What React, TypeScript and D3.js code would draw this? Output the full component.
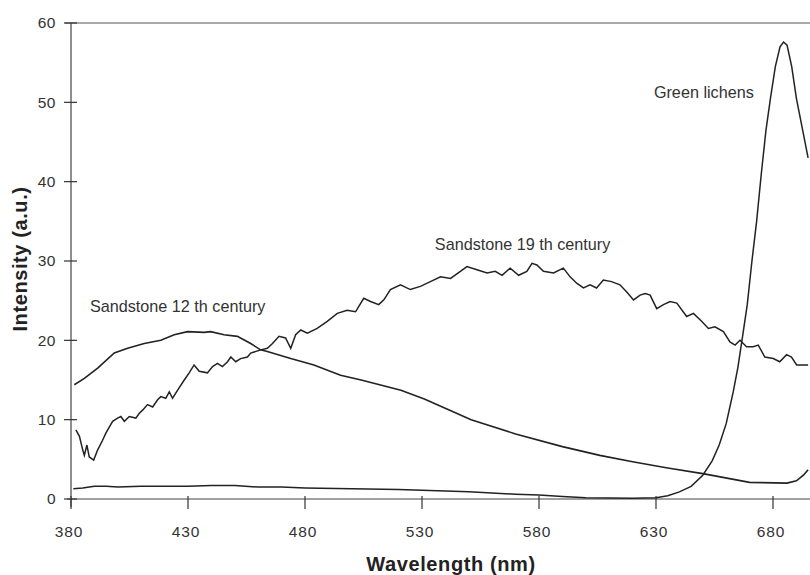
import React from "react";
import * as d3 from "d3";

const xTicks = [380, 430, 480, 530, 580, 630, 680];
const yTicks = [0, 10, 20, 30, 40, 50, 60];

// [wavelength nm, intensity a.u.]
const sandstone12: [number, number][] = [
  [381.4, 14.4], [385.7, 15.2], [391.4, 16.5], [398.5, 18.4], [404.2, 19], [411.3, 19.6],
  [418.4, 20], [424.1, 20.7], [429.8, 21.1], [436.9, 21], [439.7, 21.1], [445.4, 20.7],
  [451.1, 20.5], [456.8, 19.6], [461, 18.8], [463.9, 18.6], [473.9, 17.7], [483.8, 16.9],
  [495.2, 15.6], [504, 15], [521, 13.7], [531, 12.6], [551, 10], [570, 8.2], [590, 6.6],
  [606, 5.5], [620, 4.7], [635, 3.9], [650, 3.2], [670, 2.1], [686, 2.0], [690, 2.3],
  [693, 3.0], [695, 3.7],
];

const sandstone19: [number, number][] = [
  [382.1, 8.7], [383.6, 7.9], [385, 6.2], [385.7, 5.5], [386.8, 6.8], [387.8, 5.3],
  [389.7, 4.9], [391.4, 6.2], [393.5, 7.4], [394.9, 8.3], [396.4, 9.1], [397.8, 9.8],
  [399.9, 10.2], [401.3, 10.4], [402.8, 9.8], [404.9, 10.4], [407.7, 10.2], [409.2, 10.8],
  [410.6, 11.2], [412.7, 11.9], [414.9, 11.6], [417, 12.5], [418.4, 12.9], [420.5, 12.7],
  [422, 13.5], [423.4, 12.7], [425.5, 13.7], [428.4, 15], [430.5, 15.9], [432.6, 16.9],
  [434.8, 16.1], [438.3, 15.9], [440.5, 16.7], [442.6, 17.1], [444.7, 16.7], [446.9, 17.3],
  [448.3, 17.9], [450.4, 17.3], [452.5, 17.7], [455.4, 17.9], [456.8, 18.4], [461.1, 18.8],
  [463.9, 19], [466.1, 19.6], [468.9, 20.5], [471.7, 20.3], [473.9, 19], [476, 20.7],
  [478.2, 21.3], [481, 20.9], [485.2, 21.5], [489.5, 22.4], [493.8, 23.4], [498, 23.8],
  [501.6, 23.6], [505.1, 25.3], [508, 24.9], [511.5, 24.5], [513.7, 25.1], [516.5, 26.4],
  [520.8, 27], [525, 26.4], [529.3, 26.8], [533.6, 27.4], [537.9, 28], [542.2, 27.8],
  [546.4, 28.7], [549.2, 29.3], [553.5, 28.9], [557.8, 28.5], [561.3, 28.7], [564.2, 28.2],
  [567.7, 29.1], [571.3, 28.2], [574.8, 28.7], [577, 29.7], [579.1, 29.5], [581.9, 28.7],
  [586.2, 28.5], [590.4, 29.1], [593.3, 28], [596.1, 27.2], [599, 26.6], [601.8, 27],
  [604.6, 26.6], [607.5, 27.6], [611, 27.4], [614.6, 27], [617.5, 26.1], [620.4, 25.1],
  [623.2, 25.7], [625.4, 25.9], [627.5, 25.7], [630.3, 24], [633.2, 24.5], [636, 24.9],
  [638.9, 24.7], [643.1, 23], [646, 23.4], [649.5, 22.4], [652.4, 21.5], [655.2, 21.7],
  [658.8, 21.1], [661.6, 19.8], [663.8, 19.4], [665.9, 20], [668.7, 19.2], [671.6, 19.2],
  [673.7, 19.4], [676.5, 17.9], [680.1, 17.7], [682.9, 17.3], [685.8, 18.2], [687.9, 17.9],
  [690.1, 16.9], [692.9, 16.9], [695, 16.9],
];

const greenLichens: [number, number][] = [
  [381, 1.3], [385, 1.4], [390, 1.6], [395, 1.6], [400, 1.5], [410, 1.6], [420, 1.6],
  [430, 1.6], [440, 1.7], [450, 1.7], [460, 1.5], [470, 1.5], [480, 1.4], [500, 1.3],
  [520, 1.2], [530, 1.1], [550, 0.9], [570, 0.6], [580, 0.5], [590, 0.3], [600, 0.15],
  [620, 0.1], [630, 0.15], [635, 0.4], [640, 0.9], [645, 1.6], [650, 3.0], [654, 4.8],
  [657, 6.8], [660, 9.5], [663, 13.5], [665, 16.6], [667, 20.5], [669, 24.5], [671, 30],
  [673, 35], [675, 41], [677, 46.5], [679, 50.7], [681, 54.5], [683, 57], [684.5, 57.6],
  [686, 57.2], [688, 54.5], [690, 50.5], [692, 47.5], [695, 43],
];

const labels = [
  { text: "Green lichens", nm: 629.1, v: 50.6 },
  { text: "Sandstone 12 th century", nm: 388.1, v: 23.6 },
  { text: "Sandstone 19 th century", nm: 535.5, v: 31.4 },
];

export default function App() {
  const x = d3.scaleLinear().domain([380, 680]).range([71, 773]);
  const y = d3.scaleLinear().domain([0, 60]).range([499, 23]);
  const line = d3
    .line<[number, number]>()
    .x((d) => x(d[0]))
    .y((d) => y(d[1]));
  const font = "'Liberation Sans', Arial, sans-serif";
  const ink = "#222";
  const x0 = x(380);
  return (
    <svg
      width={810}
      height={575}
      style={{ position: "absolute", left: 0, top: 0, background: "#fff" }}
      fontFamily={font}
    >
      {/* frame / axes */}
      <line x1={x0 - 6} x2={810} y1={y(60)} y2={y(60)} stroke="#555" strokeWidth={1.2} />
      <line x1={x0 - 4} x2={810} y1={y(0)} y2={y(0)} stroke="#444" strokeWidth={1.2} />
      <line x1={x0} x2={x0} y1={y(60)} y2={y(0) + 8} stroke="#444" strokeWidth={1.2} />
      {yTicks.map((t) => (
        <g key={"y" + t}>
          <line x1={x0 - 7} x2={x0 + 6} y1={y(t)} y2={y(t)} stroke="#333" strokeWidth={1.2} />
          <text
            x={x0 - 15}
            y={y(t)}
            dy="0.35em"
            textAnchor="end"
            fontSize={15.5}
            fill="#333"
            letterSpacing={0.5}
          >
            {t}
          </text>
        </g>
      ))}
      {xTicks.map((t) => (
        <g key={"x" + t}>
          <line x1={x(t)} x2={x(t)} y1={y(0) - 3} y2={y(0) + 10} stroke="#333" strokeWidth={1.2} />
          <text
            x={x(t) - 2}
            y={y(0) + 38}
            textAnchor="middle"
            fontSize={15.5}
            fill="#333"
            letterSpacing={0.8}
          >
            {t}
          </text>
        </g>
      ))}
      <text
        x={451}
        y={571}
        textAnchor="middle"
        fontSize={20}
        fontWeight="bold"
        fill="#222"
        letterSpacing={0.6}
      >
        Wavelength (nm)
      </text>
      <text
        transform="translate(27,259) rotate(-90)"
        textAnchor="middle"
        fontSize={20}
        fontWeight="bold"
        fill="#222"
        letterSpacing={0.6}
      >
        Intensity (a.u.)
      </text>

      {/* series */}
      <path d={line(greenLichens) ?? ""} fill="none" stroke={ink} strokeWidth={1.5} />
      <path d={line(sandstone12) ?? ""} fill="none" stroke={ink} strokeWidth={1.6} />
      <path d={line(sandstone19) ?? ""} fill="none" stroke={ink} strokeWidth={1.5} />

      {labels.map((l) => (
        <text key={l.text} x={x(l.nm)} y={y(l.v)} fontSize={16.2} fill="#333">
          {l.text}
        </text>
      ))}
    </svg>
  );
}
